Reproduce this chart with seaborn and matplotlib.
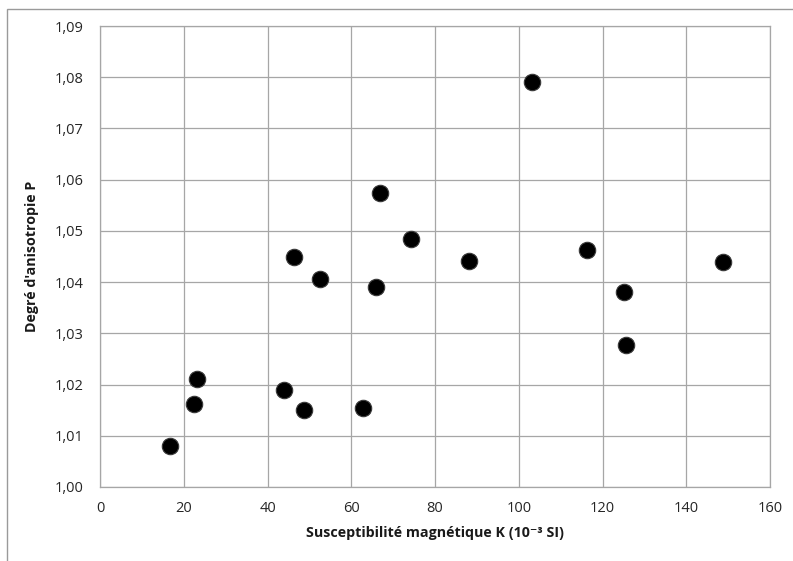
import matplotlib
matplotlib.use("Agg")
import matplotlib.pyplot as plt
import seaborn as sns
import pandas as pd
from matplotlib.ticker import FuncFormatter
from matplotlib.patches import Rectangle

# Data
susceptibility_K = [16.7, 22.5, 23.1, 43.9, 48.6, 62.9, 65.9, 52.5, 46.3, 66.9,
                    74.3, 88.0, 103.1, 116.4, 148.7, 125.2, 125.6]
anisotropy_P = [1.0081, 1.0163, 1.0211, 1.0190, 1.0150, 1.0155, 1.0391, 1.0407, 1.0450, 1.0574,
                1.0484, 1.0441, 1.0790, 1.0463, 1.0440, 1.0380, 1.0277]
x_ticks = [0, 20, 40, 60, 80, 100, 120, 140, 160]
y_ticks = [1.00, 1.01, 1.02, 1.03, 1.04, 1.05, 1.06, 1.07, 1.08, 1.09]

df = pd.DataFrame({"K": susceptibility_K, "P": anisotropy_P})

sns.set_theme(style="white")
plt.rcParams["font.family"] = ["Open Sans", "DejaVu Sans"]

W, H = 793, 561
fig = plt.figure(figsize=(W / 100, H / 100), dpi=100)
ax = fig.add_axes([100 / W, 1 - 487 / H, 670 / W, 461 / H])

grid_c = "#A6A6A6"
ax.set_axisbelow(True)
ax.grid(True, color=grid_c, linewidth=0.9)

sns.scatterplot(data=df, x="K", y="P", ax=ax, s=140, color="black",
                edgecolor="#3a3a3a", linewidth=0.8, zorder=3)

ax.set_xlim(0, 160)
ax.set_ylim(1.00, 1.09)
ax.set_xticks(x_ticks)
ax.set_yticks(y_ticks)
ax.yaxis.set_major_formatter(FuncFormatter(lambda v, p: f"{v:.2f}".replace(".", ",")))
ax.xaxis.set_major_formatter(FuncFormatter(lambda v, p: f"{v:.0f}"))
ax.tick_params(axis="both", length=0, labelsize=10.5, colors="#262626")
ax.tick_params(axis="y", pad=12)
ax.tick_params(axis="x", pad=10)
for s in ax.spines.values():
    s.set_color(grid_c)
    s.set_linewidth(0.9)

ax.set_xlabel("Susceptibilité magnétique K (10⁻³ SI)", fontsize=10.3, fontweight="bold",
              color="#1a1a1a", labelpad=7)
ax.set_ylabel("Degré d'anisotropie P", fontsize=10.3, fontweight="bold",
              color="#1a1a1a", labelpad=11)

# outer chart border (cut off at right and bottom)
fig.patches.append(Rectangle((6.5 / W, -0.1), 1.2, 1 - 8.5 / H + 0.1,
                             transform=fig.transFigure, fill=False,
                             edgecolor="#9a9a9a", linewidth=1.0))

fig.savefig("out.png", dpi=100)
